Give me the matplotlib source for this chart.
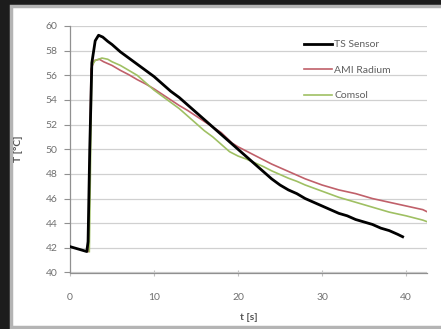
import numpy as np
import matplotlib
matplotlib.use("Agg")
import matplotlib.pyplot as plt
from matplotlib.patches import Rectangle

plt.rcParams['font.family'] = ['Lato', 'DejaVu Sans']

# ---- data ----
t_sensor = [0, 1, 2.0, 2.15, 2.35, 2.6, 3.0, 3.4, 3.9, 4.5, 5, 6, 7, 8, 9, 10,
            11, 12, 13, 14, 15, 16, 17, 18, 19, 20, 21, 22, 23, 24, 25, 26,
            27, 28, 29, 30, 31, 32, 33, 34, 35, 36, 37, 38, 39, 39.6]
T_sensor = [42.1, 41.9, 41.7, 42.5, 50.0, 57.0, 58.8, 59.25, 59.1, 58.75, 58.5,
            57.9, 57.4, 56.9, 56.4, 55.9, 55.3, 54.7, 54.2, 53.6, 53.0, 52.4,
            51.8, 51.2, 50.6, 50.0, 49.4, 48.8, 48.2, 47.6, 47.1, 46.7, 46.4,
            46.0, 45.7, 45.4, 45.1, 44.8, 44.6, 44.3, 44.1, 43.9, 43.6, 43.4,
            43.1, 42.9]

t_ami = [2.2, 2.5, 2.9, 3.5, 4, 5, 6, 7, 8, 9, 10, 11, 12, 13, 14, 15, 16, 17,
         18, 19.3, 20, 22, 24, 26, 28, 30, 32, 34, 36, 38, 40, 42, 42.6]
T_ami = [41.7, 56.5, 57.2, 57.3, 57.1, 56.8, 56.4, 56.05, 55.65, 55.3, 54.9,
         54.45, 54.0, 53.55, 53.15, 52.7, 52.25, 51.8, 51.35, 50.5, 50.2, 49.5,
         48.8, 48.2, 47.6, 47.1, 46.7, 46.4, 46.0, 45.7, 45.4, 45.1, 44.9]

t_comsol = [2.3, 2.6, 3.0, 3.8, 4.5, 5, 6, 7, 8, 9, 10, 11, 12, 13, 14, 15, 16,
            17, 18, 19, 20, 21, 22, 23, 24, 25, 26, 27, 28, 30, 32, 34, 36,
            38, 40, 42, 42.6]
T_comsol = [41.7, 56.8, 57.2, 57.4, 57.3, 57.1, 56.8, 56.4, 56.0, 55.4, 54.8,
            54.3, 53.8, 53.3, 52.7, 52.1, 51.5, 51.0, 50.4, 49.8, 49.45, 49.2,
            48.9, 48.6, 48.25, 47.95, 47.65, 47.4, 47.1, 46.6, 46.1, 45.7,
            45.3, 44.9, 44.6, 44.25, 44.1]

labels = ["TS Sensor", "AMI Radium", "Comsol"]
xticks = [0, 10, 20, 30, 40]
yticks = np.arange(40, 61, 2)

fig = plt.figure(figsize=(4.41, 3.29), dpi=100, facecolor='#1c1c1c')
# white slide panel behind the chart
fig.patches.append(Rectangle((11/441, 2/329), 1.0, 1 - 8/329,
                             transform=fig.transFigure, facecolor='white',
                             edgecolor='#b4b4b4', lw=2.5, zorder=-10))

ax = fig.add_axes([70/441, 1 - 272.5/329, 357/441, 246.5/329])
ax.set_zorder(5)
ax.set_facecolor('none')

ax.plot(t_ami, T_ami, color='#c0606a', lw=1.2, label=labels[1], zorder=3)
ax.plot(t_comsol, T_comsol, color='#9fc063', lw=1.2, label=labels[2], zorder=3)
ax.plot(t_sensor, T_sensor, color='black', lw=2.0, label=labels[0], zorder=4)

ax.set_xlim(0, 42.5)
ax.set_ylim(40, 60)
ax.set_xticks(xticks)
ax.set_yticks(yticks)
ax.yaxis.grid(True, color='#d0d0d0', lw=0.9)
ax.set_axisbelow(True)

for s in ['top', 'right']:
    ax.spines[s].set_visible(False)
for s in ['left', 'bottom']:
    ax.spines[s].set_color('#909090')
    ax.spines[s].set_linewidth(0.9)

ax.tick_params(axis='y', direction='out', length=4, color='#909090',
               labelsize=7.5, labelcolor='#707070', pad=5)
ax.tick_params(axis='x', direction='inout', length=4, color='#c0c0c0',
               labelsize=7.5, labelcolor='#707070', pad=13)

ax.set_xlabel("t [s]", fontsize=7.5, fontweight='bold', color='#555555',
              labelpad=8)
ax.set_ylabel("T [°C]", fontsize=7.5, fontweight='bold', color='#555555',
              labelpad=16)

h, l = ax.get_legend_handles_labels()
order = [2, 0, 1]
leg = ax.legend([h[i] for i in order], [l[i] for i in order],
                loc='upper left', bbox_to_anchor=(0.655, 0.943),
                frameon=False, fontsize=7.5, handlelength=2.7,
                handletextpad=0.2, labelspacing=1.55, borderpad=0,
                borderaxespad=0)
for txt in leg.get_texts():
    txt.set_color('#606060')

fig.savefig("out.png", dpi=100, facecolor=fig.get_facecolor())
